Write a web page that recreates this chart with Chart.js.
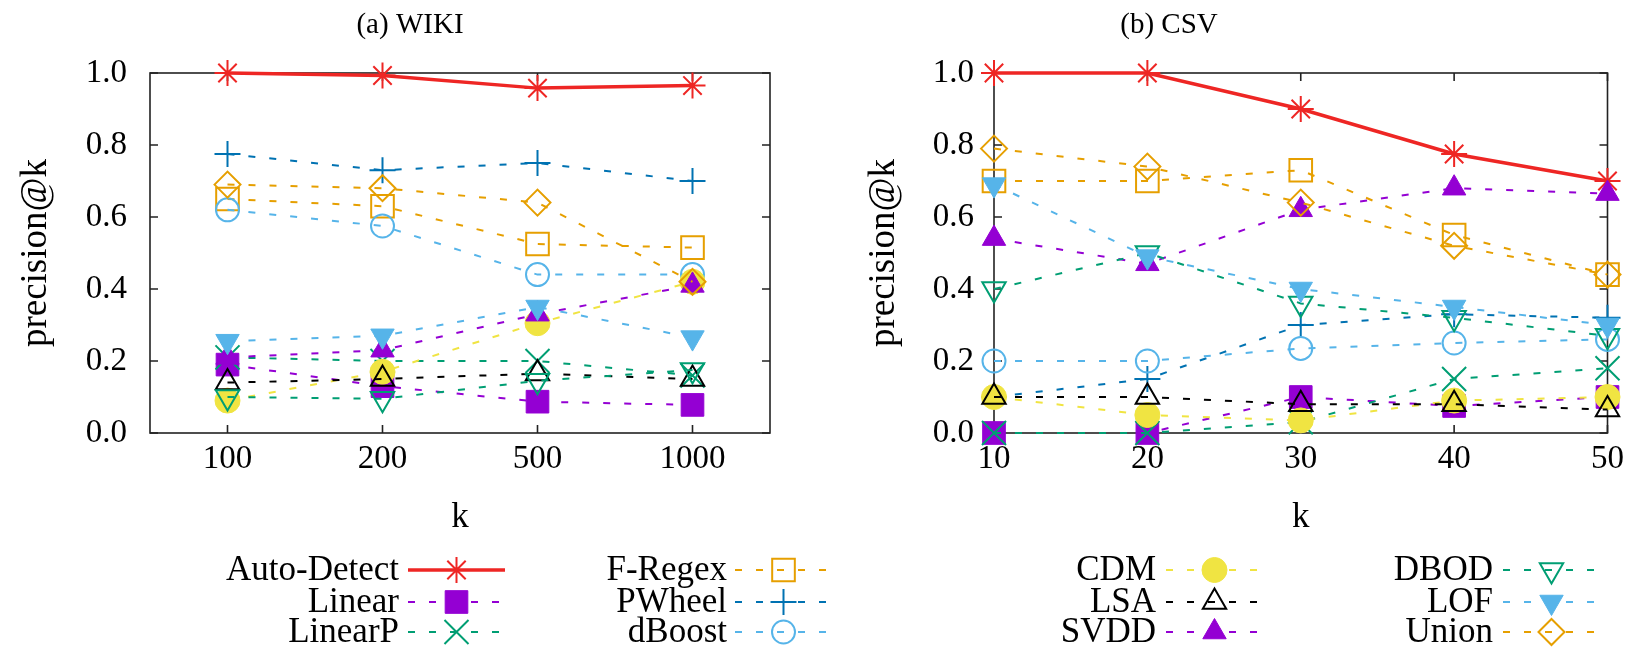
<!DOCTYPE html>
<html>
<head>
<meta charset="utf-8">
<script src="https://cdn.jsdelivr.net/npm/chart.js@4.4.0/dist/chart.umd.min.js"></script>
<style>
  html, body { margin: 0; padding: 0; background: #fff; }
  #wrap { position: relative; width: 1634px; height: 650px; overflow: hidden; }
  .pane { position: absolute; top: 0; height: 650px; }
</style>
</head>
<body>
<div id="wrap">
  <div class="pane" style="left:0;width:880px"><canvas id="c1" width="880" height="650"></canvas></div>
  <div class="pane" style="left:817px;width:817px"><canvas id="c2" width="817" height="650"></canvas></div>
</div>
<script>
// ---------------- DATA ----------------
const seriesNames = ['Auto-Detect','Linear','LinearP','F-Regex','PWheel','dBoost','CDM','LSA','SVDD','DBOD','LOF','Union'];

// (a) WIKI, k = 100, 200, 500, 1000
const wikiK = ['100','200','500','1000'];
const wikiAutoDetect = [1.00, 0.993, 0.958, 0.965];
const wikiLinear     = [0.19, 0.13, 0.087, 0.078];
const wikiLinearP    = [0.21, 0.20, 0.20, 0.16];
const wikiFRegex     = [0.65, 0.63, 0.525, 0.515];
const wikiPWheel     = [0.775, 0.73, 0.75, 0.70];
const wikiDBoost     = [0.62, 0.575, 0.44, 0.44];
const wikiCDM        = [0.09, 0.17, 0.305, 0.42];
const wikiLSA        = [0.14, 0.15, 0.165, 0.15];
const wikiSVDD       = [0.21, 0.23, 0.33, 0.41];
const wikiDBOD       = [0.10, 0.095, 0.145, 0.175];
const wikiLOF        = [0.255, 0.27, 0.35, 0.265];
const wikiUnion      = [0.69, 0.68, 0.64, 0.42];

// (b) CSV, k = 10 .. 50
const csvK = ['10','20','30','40','50'];
const csvAutoDetect = [1.00, 1.00, 0.90, 0.775, 0.70];
const csvLinear     = [0.00, 0.00, 0.10, 0.075, 0.10];
const csvLinearP    = [0.00, 0.00, 0.03, 0.15, 0.18];
const csvFRegex     = [0.70, 0.70, 0.73, 0.55, 0.44];
const csvPWheel     = [0.10, 0.15, 0.30, 0.33, 0.32];
const csvDBoost     = [0.20, 0.20, 0.235, 0.25, 0.26];
const csvCDM        = [0.10, 0.05, 0.035, 0.09, 0.10];
const csvLSA        = [0.10, 0.10, 0.08, 0.08, 0.065];
const csvSVDD       = [0.54, 0.47, 0.62, 0.68, 0.665];
const csvDBOD       = [0.40, 0.50, 0.36, 0.32, 0.27];
const csvLOF        = [0.69, 0.49, 0.40, 0.35, 0.30];
const csvUnion      = [0.79, 0.74, 0.64, 0.52, 0.44];

const yTickValues = [0, 0.2, 0.4, 0.6, 0.8, 1.0];

// ---------------- STYLES ----------------
const FONT = "'Liberation Serif','Times New Roman',Times,serif";
Chart.defaults.font.family = FONT;
Chart.defaults.color = '#000';

const styles = {
  'Auto-Detect': {color:'#ee2624', point:'star',     radius:13,   fill:false, solid:true},
  'Linear':      {color:'#9400d3', point:'rect',     radius:16,   fill:true},
  'LinearP':     {color:'#009e73', point:'crossRot', radius:17,   fill:false},
  'F-Regex':     {color:'#e69f00', point:'rect',     radius:16,   fill:false},
  'PWheel':      {color:'#0072b2', point:'cross',    radius:13,   fill:false},
  'dBoost':      {color:'#56b4e9', point:'circle',   radius:11.5, fill:false},
  'CDM':         {color:'#f0e442', point:'circle',   radius:12.5, fill:true},
  'LSA':         {color:'#000000', point:'triangle', radius:13.5, fill:false},
  'SVDD':        {color:'#9400d3', point:'triangle', radius:13.5, fill:true},
  'DBOD':        {color:'#009e73', point:'triangle', radius:13.5, fill:false, rot:180},
  'LOF':         {color:'#56b4e9', point:'triangle', radius:13.5, fill:true,  rot:180},
  'Union':       {color:'#e69f00', point:'rectRot',  radius:13,   fill:false}
};
const DASH = [7, 14];

function makeDataset(name, data, idx) {
  const s = styles[name];
  const bg = s.fill ? s.color : 'rgba(0,0,0,0)';
  return {
    label: name,
    data: data,
    borderColor: s.color,
    backgroundColor: bg,
    borderWidth: s.solid ? 3.5 : 2,
    borderDash: s.solid ? [] : DASH,
    pointStyle: s.point,
    pointRadius: s.radius,
    pointHoverRadius: s.radius,
    pointRotation: s.rot || 0,
    pointBackgroundColor: bg,
    pointBorderColor: s.color,
    pointBorderWidth: s.fill ? 1 : 2,
    tension: 0,
    fill: false,
    clip: false,
    order: -idx
  };
}

// ---------------- PLUGINS ----------------
const framePlugin = {
  id: 'frame',
  beforeDatasetsDraw(chart) {
    const {ctx, chartArea: a, scales} = chart;
    ctx.save();
    ctx.strokeStyle = '#222';
    ctx.lineWidth = 1.6;
    ctx.setLineDash([]);
    ctx.strokeRect(a.left, a.top, a.right - a.left, a.bottom - a.top);
    const tl = 8;
    ctx.beginPath();
    scales.y.ticks.forEach((t, i) => {
      const y = scales.y.getPixelForTick(i);
      ctx.moveTo(a.left, y); ctx.lineTo(a.left + tl, y);
      ctx.moveTo(a.right, y); ctx.lineTo(a.right - tl, y);
    });
    scales.x.ticks.forEach((t, i) => {
      const x = scales.x.getPixelForTick(i);
      ctx.moveTo(x, a.bottom); ctx.lineTo(x, a.bottom - tl);
      ctx.moveTo(x, a.top); ctx.lineTo(x, a.top + tl);
    });
    ctx.stroke();
    ctx.restore();
  }
};

const keyPlugin = {
  id: 'gnukey',
  afterDraw(chart, args, opts) {
    const {ctx} = chart;
    ctx.save();
    // panel title
    ctx.font = '29px ' + FONT;
    ctx.fillStyle = '#000';
    ctx.textAlign = 'center';
    ctx.textBaseline = 'middle';
    ctx.fillText(opts.title, opts.titleX, opts.titleY);
    // key
    ctx.font = '35px ' + FONT;
    opts.cols.forEach(col => {
      col.names.forEach((name, r) => {
        const y = opts.rows[r];
        const ds = chart.data.datasets.find(d => d.label === name);
        ctx.fillStyle = '#000';
        ctx.textAlign = 'right';
        ctx.textBaseline = 'middle';
        ctx.fillText(name, col.textRight, y + 1);
        ctx.strokeStyle = ds.borderColor;
        ctx.lineWidth = ds.borderWidth;
        ctx.setLineDash(ds.borderDash);
        ctx.beginPath();
        ctx.moveTo(col.x1, y); ctx.lineTo(col.x2, y);
        ctx.stroke();
        ctx.setLineDash([]);
        ctx.fillStyle = ds.pointBackgroundColor;
        ctx.strokeStyle = ds.pointBorderColor;
        ctx.lineWidth = ds.pointBorderWidth;
        Chart.helpers.drawPoint(ctx, {
          pointStyle: ds.pointStyle, rotation: ds.pointRotation,
          radius: ds.pointRadius, borderWidth: ds.pointBorderWidth
        }, (col.x1 + col.x2) / 2, y);
      });
    });
    ctx.restore();
  }
};

function buildChart(canvasId, labels, seriesData, layout) {
  const datasets = seriesNames.map((n, i) => makeDataset(n, seriesData[i], i));
  return new Chart(document.getElementById(canvasId), {
    type: 'line',
    data: { labels: labels, datasets: datasets },
    plugins: [framePlugin, keyPlugin],
    options: {
      responsive: false,
      animation: false,
      events: [],
      layout: { padding: { left: 0, right: layout.padRight, top: 73, bottom: 112 } },
      plugins: {
        legend: { display: false },
        title: { display: false },
        tooltip: { enabled: false },
        gnukey: layout.key
      },
      scales: {
        x: {
          type: 'category',
          offset: layout.offset,
          grid: { display: false, drawTicks: false },
          border: { display: false },
          ticks: { font: { size: 33, lineHeight: 1 }, padding: 10, color: '#000', maxRotation: 0, autoSkip: false },
          title: { display: true, text: 'k', font: { size: 35, lineHeight: 1 }, padding: { top: 0, bottom: 2.5 }, color: '#000' },
          afterFit: s => { s.height = 105; }
        },
        y: {
          type: 'linear',
          min: 0, max: 1,
          afterBuildTicks: s => { s.ticks = yTickValues.map(v => ({ value: v })); },
          grid: { display: false, drawTicks: false },
          border: { display: false },
          ticks: { font: { size: 33, lineHeight: 1 }, padding: layout.yTickPad, color: '#000',
                   callback: v => Number(v).toFixed(1) },
          title: { display: true, text: 'precision@k', font: { size: 37, lineHeight: 1 },
                   padding: { top: layout.yTitlePad, bottom: 0 }, color: '#000' },
          afterFit: s => { s.width = layout.yWidth; }
        }
      }
    }
  });
}

buildChart('c1', wikiK,
  [wikiAutoDetect, wikiLinear, wikiLinearP, wikiFRegex, wikiPWheel, wikiDBoost,
   wikiCDM, wikiLSA, wikiSVDD, wikiDBOD, wikiLOF, wikiUnion],
  { padRight: 110, offset: true, yWidth: 150, yTickPad: 23, yTitlePad: 18,
    key: { title: '(a) WIKI', titleX: 410, titleY: 25, rows: [570, 602, 632],
           cols: [ { textRight: 399, x1: 408, x2: 505, names: ['Auto-Detect','Linear','LinearP'] },
                   { textRight: 727, x1: 735, x2: 832, names: ['F-Regex','PWheel','dBoost'] } ] } });

buildChart('c2', csvK,
  [csvAutoDetect, csvLinear, csvLinearP, csvFRegex, csvPWheel, csvDBoost,
   csvCDM, csvLSA, csvSVDD, csvDBOD, csvLOF, csvUnion],
  { padRight: 22, offset: false, yWidth: 177, yTickPad: 20, yTitlePad: 49,
    key: { title: '(b) CSV', titleX: 352, titleY: 25, rows: [570, 602, 632],
           cols: [ { textRight: 339, x1: 349, x2: 446, names: ['CDM','LSA','SVDD'] },
                   { textRight: 676, x1: 686, x2: 783, names: ['DBOD','LOF','Union'] } ] } });
</script>
</body>
</html>
